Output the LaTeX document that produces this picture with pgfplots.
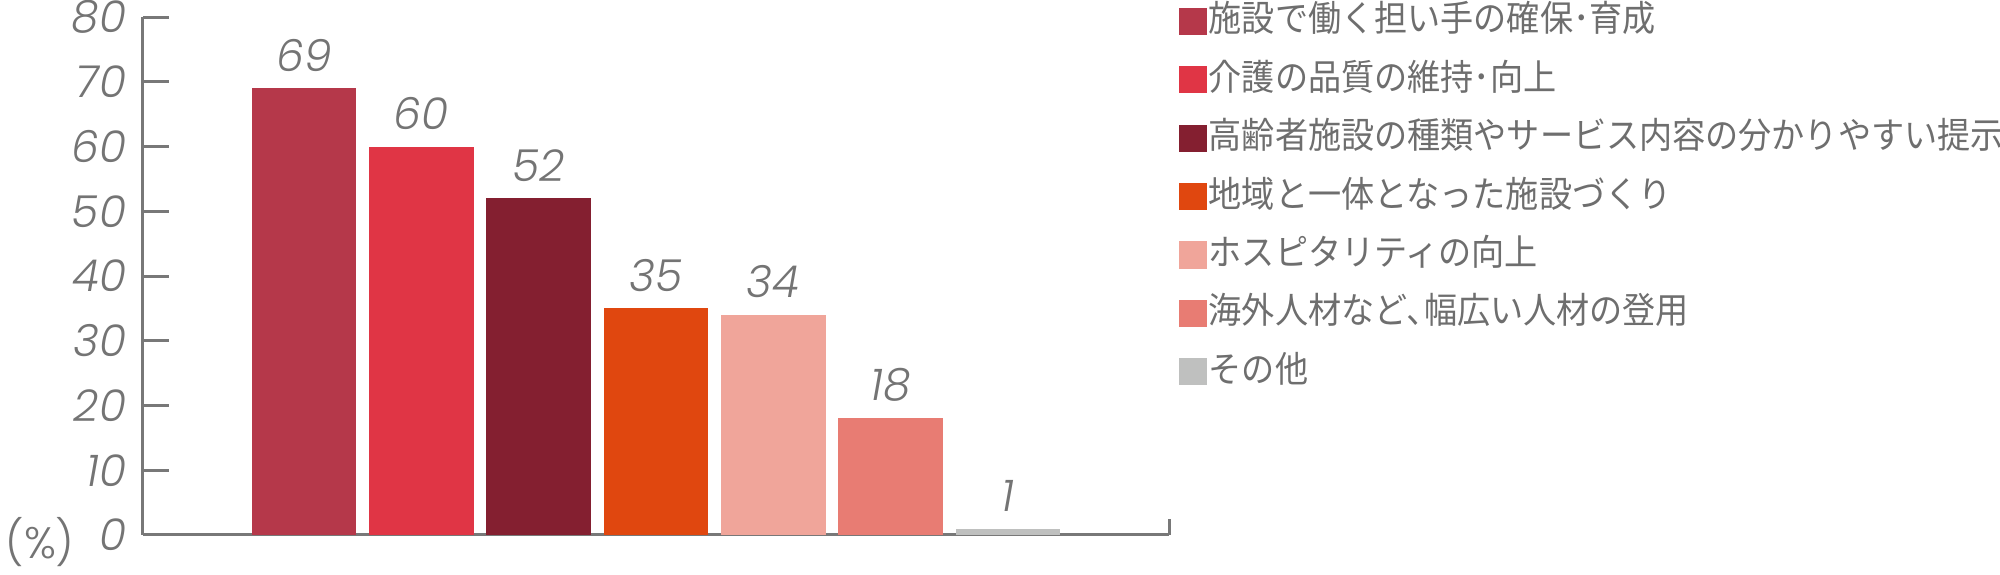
\documentclass[border=0pt]{standalone}
\usepackage{pgfplots}
\pgfplotsset{compat=1.18}
\usepackage{fontspec}
\setmainfont{Poppins}
\newfontfamily\numfont{Poppins Light Italic}
\newfontfamily\numup{Poppins Light}
\newfontfamily\cjk[FakeStretch=0.92]{Noto Sans CJK JP}
\definecolor{c1}{HTML}{B5384A}
\definecolor{c2}{HTML}{E03545}
\definecolor{c3}{HTML}{841F30}
\definecolor{c4}{HTML}{E0470F}
\definecolor{c5}{HTML}{F0A59A}
\definecolor{c6}{HTML}{E87C73}
\definecolor{c7}{HTML}{BFC0BF}
\definecolor{axisgray}{HTML}{787878}
\definecolor{textgray}{HTML}{747474}
\definecolor{leggray}{HTML}{6E6E6E}
\begin{document}
\begin{tikzpicture}
\path[use as bounding box] (0pt,0pt) rectangle (500pt,143.75pt);
\begin{axis}[
  at={(35.75pt,10pt)}, anchor=south west,
  scale only axis, width=256.5pt, height=129.5pt,
  xmin=-1.373, xmax=7.373, ymin=0, ymax=80,
  clip=false,
  axis x line*=bottom, axis y line*=left,
  axis line style={draw=axisgray, line width=0.75pt},
  xtick=\empty,
  ytick={0,10,...,80},
  tick align=inside,
  major tick length=6.5pt,
  y tick style={draw=axisgray, line width=0.75pt},
  /pgf/number format/assume math mode=true,
  yticklabel style={font=\numfont\fontsize{11}{11}\selectfont, text=textgray, anchor=east, inner sep=0pt, xshift=-4pt},
  ybar, bar width=0.892,
  nodes near coords,
  every node near coord/.append style={font=\numfont\fontsize{11}{11}\selectfont, text=textgray, inner sep=0pt, anchor=south, yshift=4pt},
  legend image code/.code={\fill[#1] (0pt,-3.4pt) rectangle (7pt,3.4pt);},
  legend style={at={(1,1)}, anchor=north west, xshift=2.25pt, yshift=3pt,
    draw=none, fill=none, inner sep=0pt, row sep=6.8pt, column sep=0.5pt,
    font=\cjk\fontsize{9}{9}\selectfont, text=leggray,
    nodes={inner sep=0pt, text height=6.5pt, text depth=1.3pt}},
  legend cell align=left,
]
\addplot[fill=c1, draw=none, bar shift=0pt] coordinates {(0,69)};
\addlegendentry{施設で働く担い手の確保･育成}
\addplot[fill=c2, draw=none, bar shift=0pt] coordinates {(1,60)};
\addlegendentry{介護の品質の維持･向上}
\addplot[fill=c3, draw=none, bar shift=0pt] coordinates {(2,52)};
\addlegendentry{高齢者施設の種類やサービス内容の分かりやすい提示}
\addplot[fill=c4, draw=none, bar shift=0pt] coordinates {(3,35)};
\addlegendentry{地域と一体となった施設づくり}
\addplot[fill=c5, draw=none, bar shift=0pt] coordinates {(4,34)};
\addlegendentry{ホスピタリティの向上}
\addplot[fill=c6, draw=none, bar shift=0pt] coordinates {(5,18)};
\addlegendentry{海外人材など､幅広い人材の登用}
\addplot[fill=c7, draw=none, bar shift=0pt] coordinates {(6,1)};
\addlegendentry{その他}
\draw[axisgray, line width=0.75pt] (rel axis cs:1,0) -- ++(0pt,4pt);
\node[font=\numup\fontsize{11}{11}\selectfont, text=textgray, xshift=-25.75pt, yshift=-1.75pt] at (rel axis cs:0,0) {(\%)};
\end{axis}
\end{tikzpicture}
\end{document}
